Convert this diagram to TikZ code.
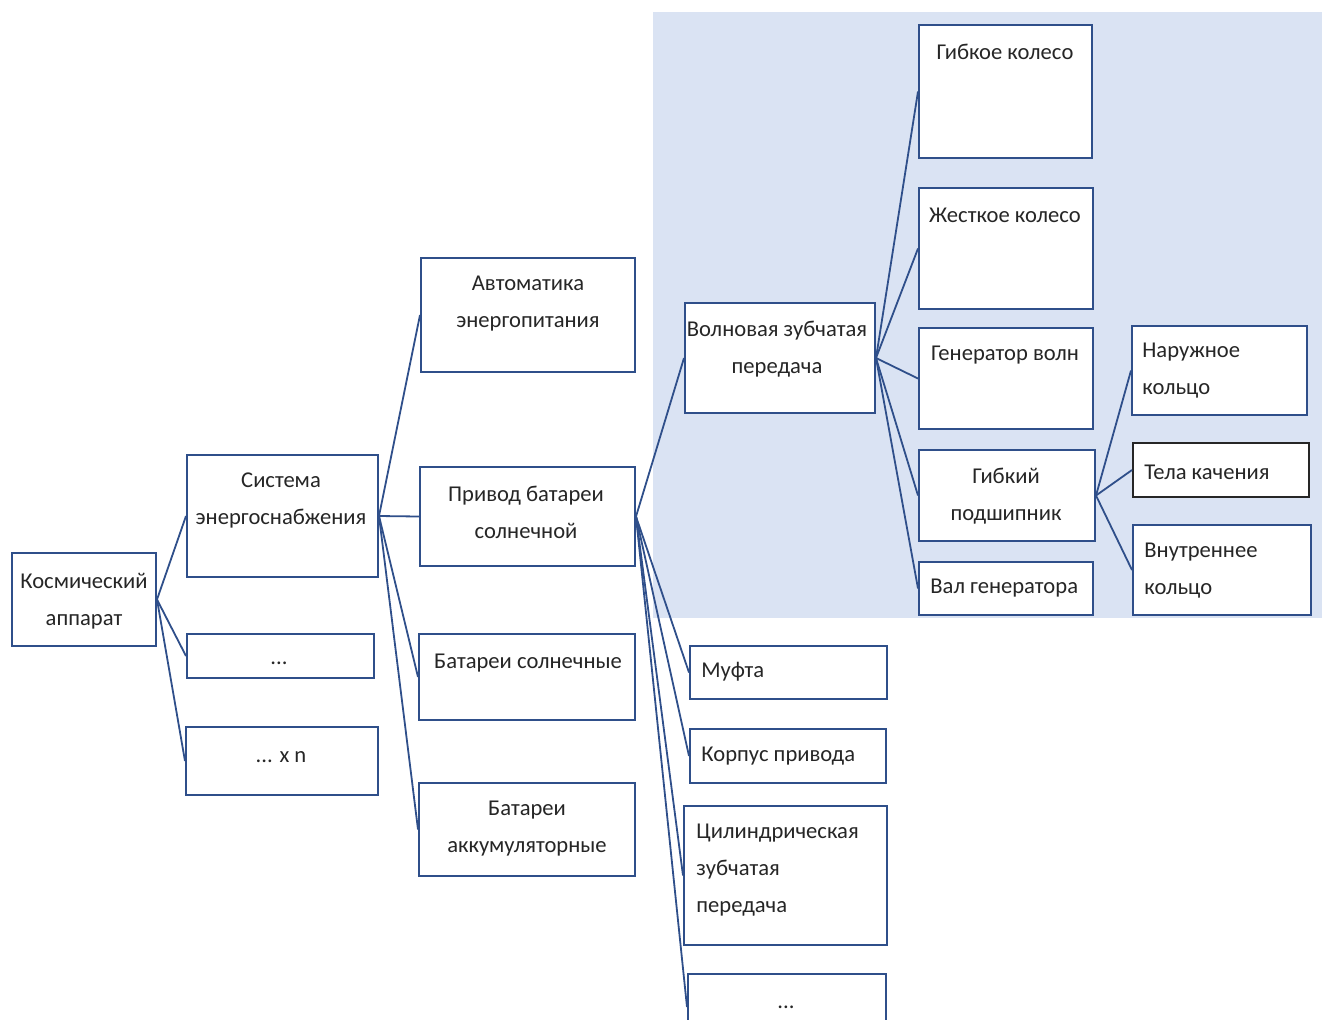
\documentclass[tikz,border=0pt]{standalone}
\usepackage{fontspec}
\setmainfont{Carlito}
\usetikzlibrary{fit}
\definecolor{edge}{HTML}{2F4F8A}
\definecolor{zone}{HTML}{DAE3F3}
\definecolor{ink}{HTML}{262626}
\begin{document}
\begin{tikzpicture}[x=0.5pt,y=-0.5pt,
  box/.style={draw=edge,line width=1pt,fill=white,inner sep=0pt,rectangle},
  blackbox/.style={box,draw=black!85},
  conn/.style={draw=edge,line width=0.9pt},
  txt/.style={text=ink,inner sep=0pt,align=center,font={\fontsize{11.3pt}{18.5pt}\selectfont}},
  ltxt/.style={txt,align=left,anchor=west}]
\useasboundingbox (0,0) rectangle (1327,1019);
% shaded area around the wave gear
\fill[zone] (653,12) rectangle (1322,618);

% boxes
\node[box,fit={(12,553) (156,646)}] (kos) {};
\node[box,fit={(187,455) (378,577)}] (sys) {};
\node[box,fit={(187,634) (374,678)}] (dotsa) {};
\node[box,fit={(186,727) (378,795)}] (dotsn) {};
\node[box,fit={(421,258) (635,372)}] (avt) {};
\node[box,fit={(420,467) (635,566)}] (priv) {};
\node[box,fit={(419,634) (635,720)}] (bsol) {};
\node[box,fit={(419,783) (635,876)}] (bakk) {};
\node[box,fit={(685,303) (875,413)}] (voln) {};
\node[box,fit={(690,646) (887,699)}] (muft) {};
\node[box,fit={(690,729) (886,783)}] (korp) {};
\node[box,fit={(684,806) (887,945)}] (cil) {};
\node[box,fit={(688,974) (886,1040)}] (dotsb) {};
\node[box,fit={(919,25) (1092,158)}] (gibk) {};
\node[box,fit={(919,188) (1093,309)}] (zhest) {};
\node[box,fit={(919,328) (1093,429)}] (gen) {};
\node[box,fit={(919,450) (1095,541)}] (podsh) {};
\node[box,fit={(919,562) (1093,615)}] (val) {};
\node[box,fit={(1132,326) (1307,415)}] (nar) {};
\node[blackbox,fit={(1133,443) (1309,497)}] (tela) {};
\node[box,fit={(1133,525) (1311,615)}] (vnut) {};

% connectors
\foreach \a/\b in {kos/sys,kos/dotsa,kos/dotsn,
                   sys/avt,sys/priv,sys/bsol,sys/bakk,
                   priv/voln,priv/muft,priv/korp,priv/cil,priv/dotsb,
                   voln/gibk,voln/zhest,voln/gen,voln/podsh,voln/val,
                   podsh/nar,podsh/tela,podsh/vnut}
  \draw[conn] (\a.east) -- (\b.west);

% labels
\node[txt] (kos-t) at (84,601) {Космический\\аппарат};
\node[txt] (sys-t) at (281,500) {Система\\энергоснабжения};
\node[txt,anchor=base] (dotsa-t) at (279,664) {...};
\node[txt] (dotsn-t) at (281,757) {... x n};
\node[txt] (avt-t) at (528,304) {Автоматика\\энергопитания};
\node[txt] (priv-t) at (526,512) {Привод батареи\\солнечной};
\node[txt] (bsol-t) at (528,663) {Батареи солнечные};
\node[txt] (bakk-t) at (527,829) {Батареи\\аккумуляторные};
\node[txt] (voln-t) at (777,349) {Волновая зубчатая\\передача};
\node[ltxt] (muft-t) at (701,672) {Муфта};
\node[ltxt] (korp-t) at (701,756) {Корпус привода};
\node[ltxt] (cil-t) at (696,870) {Цилиндрическая\\зубчатая\\передача};
\node[txt,anchor=base] (dotsb-t) at (786,1008) {...};
\node[txt] (gibk-t) at (1005,52) {Гибкое колесо};
\node[txt] (zhest-t) at (1005,215) {Жесткое колесо};
\node[txt] (gen-t) at (1005,355) {Генератор волн};
\node[txt] (podsh-t) at (1006,496) {Гибкий\\подшипник};
\node[ltxt] (val-t) at (930,588) {Вал генератора};
\node[ltxt] (nar-t) at (1142,371) {Наружное\\кольцо};
\node[ltxt] (tela-t) at (1144,472) {Тела качения};
\node[ltxt] (vnut-t) at (1144,571) {Внутреннее\\кольцо};
\end{tikzpicture}
\end{document}
